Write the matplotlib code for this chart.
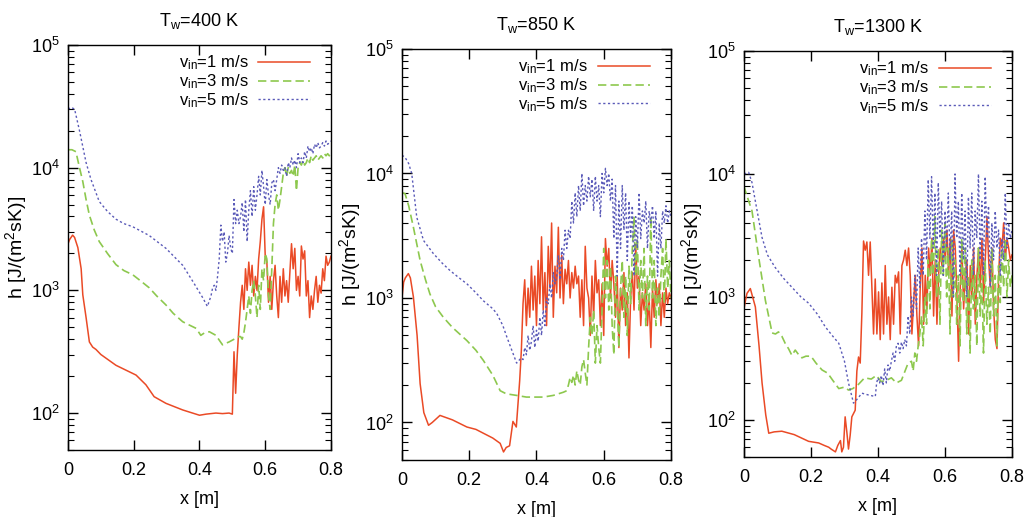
import numpy as np
import matplotlib
matplotlib.use("Agg")
import matplotlib.pyplot as plt
from matplotlib.ticker import FixedLocator, FuncFormatter, LogLocator

plt.rcParams["font.family"] = ["Liberation Sans", "DejaVu Sans"]
plt.rcParams["mathtext.default"] = "regular"

titles = ["T$_w$=400 K", "T$_w$=850 K", "T$_w$=1300 K"]
labels = ["v$_{in}$=1 m/s", "v$_{in}$=3 m/s", "v$_{in}$=5 m/s"]

# ---- Tw = 400 K ----
x1_r = [0, 0.005, 0.014, 0.02, 0.03, 0.04, 0.045, 0.055, 0.065, 0.075, 0.085, 0.1, 0.146, 0.207,
        0.237, 0.262, 0.298, 0.349, 0.4, 0.42, 0.45, 0.47, 0.49, 0.50]
h1_r = [2400, 2600, 2820, 2700, 2230, 1500, 920, 600, 380, 345, 330, 300, 245, 204, 170, 136,
        120, 106, 96, 98, 100, 99, 100, 98]
n1_r_start = 0.505
n1_r = [316, 145, 300, 500, 800, 1100, 700, 1500, 1000, 1700, 1100, 1600, 900, 1300, 1000,
        1800, 2500, 3800, 4800, 1900, 1700, 800, 1300, 700, 1200, 1600, 900, 600, 1300, 800,
        1500, 900, 1200, 800, 1400, 2400, 1500, 2200, 1000, 1300, 900, 2300, 1800, 2100, 900,
        1200, 600, 900, 700, 1000, 1300, 800, 1100, 950, 1500, 1200, 1900, 1600, 1700, 1900]

x1_g = [0, 0.012, 0.024, 0.035, 0.045, 0.055, 0.065, 0.08, 0.095, 0.12, 0.146, 0.17, 0.197,
        0.22, 0.247, 0.27, 0.298, 0.32, 0.349, 0.37, 0.39, 0.404, 0.415, 0.43, 0.45, 0.47,
        0.49, 0.52]
h1_g = [14000, 14000, 13500, 10000, 7700, 5500, 4100, 3100, 2500, 2000, 1620, 1450, 1340, 1200,
        1050, 900, 760, 650, 555, 520, 490, 430, 450, 460, 430, 360, 380, 420]
n1_g_start = 0.525
n1_g = [420, 400, 450, 550, 700, 900, 650, 1000, 1200, 900, 600, 1100, 700, 1500, 1200, 2000,
        1800, 900, 700, 1500, 3500, 5000, 6000, 4500, 5500, 7000, 9000, 10000, 8500, 10000,
        9000, 9500, 8500, 10500, 6500, 10000, 11000, 10500, 11500, 10500, 11000, 12000, 11000,
        12500, 11500, 12000, 12500, 11500, 12000, 12500, 12000, 13000, 12500, 13000, 12500, 13000]

x1_b = [0, 0.01, 0.02, 0.035, 0.055, 0.07, 0.095, 0.12, 0.146, 0.17, 0.197, 0.247, 0.298, 0.349,
        0.38, 0.41, 0.424, 0.435]
h1_b = [30000, 31000, 30000, 20000, 11000, 8000, 5300, 4400, 3800, 3500, 3300, 2800, 2200, 1600,
        1180, 870, 740, 900]
n1_b_start = 0.44
n1_b = [1050, 1100, 1000, 1300, 1800, 3400, 2500, 3000, 1700, 2000, 2800, 2200, 2000, 5500, 3500,
        4500, 3500, 4000, 5200, 3000, 5500, 2500, 4500, 6500, 4000, 7000, 4500, 6000, 8500, 6000,
        9500, 7000, 5000, 8000, 6000, 5000, 7500, 8000, 6500, 8000, 10000, 9000, 10500, 9500,
        10000, 8500, 11000, 10000, 12000, 10500, 11500, 10000, 13000, 11000, 12000, 11000, 13500,
        12000, 15000, 13500, 14500, 13000, 15500, 14500, 16000, 14500, 15000, 16000, 15000,
        16500, 15500, 16000, 16500]

# ---- Tw = 850 K ----
x2_r = [0, 0.005, 0.01, 0.019, 0.025, 0.034, 0.045, 0.054, 0.065, 0.079, 0.09, 0.113, 0.15,
        0.193, 0.22, 0.242, 0.27, 0.292, 0.302, 0.31, 0.32, 0.33, 0.34, 0.35]
h2_r = [1000, 1340, 1450, 1570, 1450, 1020, 500, 205, 120, 95, 100, 114, 105, 92, 88, 82, 75,
        68, 58, 63, 65, 102, 92, 216]
n2_r_start = 0.355
n2_r = [380, 900, 1400, 600, 1200, 700, 1800, 800, 1500, 600, 2000, 900, 3100, 800, 1600, 600,
        2600, 1200, 4000, 700, 1800, 1100, 3700, 1000, 2200, 900, 1700, 1300, 2000, 1000, 1600,
        1200, 1800, 1300, 1500, 700, 1400, 600, 2600, 1200, 1000, 500, 1500, 700, 2000, 1100,
        1400, 600, 1300, 500, 3000, 1800, 2500, 1000, 2000, 1300, 700, 1500, 400, 1200, 800,
        1600, 600, 1100, 330, 1000, 1600, 800, 2700, 1200, 1500, 600, 1100, 800, 1300, 600,
        1000, 400, 1200, 700, 1400, 900, 1300, 600, 1100, 700, 1200, 900, 1100, 1000]

x2_g = [0, 0.009, 0.02, 0.034, 0.054, 0.07, 0.083, 0.1, 0.123, 0.15, 0.193, 0.22, 0.242, 0.27,
        0.292, 0.31, 0.341, 0.37, 0.39, 0.42, 0.45, 0.48]
h2_g = [7000, 6900, 5500, 3700, 2000, 1400, 1080, 850, 700, 580, 455, 380, 315, 240, 180, 170,
        165, 160, 160, 160, 165, 175]
n2_g_start = 0.49
n2_g = [180, 200, 230, 210, 240, 200, 260, 220, 200, 280, 320, 250, 200, 400, 700, 500, 800,
        300, 600, 400, 300, 800, 2500, 1000, 2000, 800, 1800, 600, 350, 1500, 900, 400, 1200,
        2000, 700, 1500, 500, 1800, 900, 2500, 4500, 1500, 3000, 800, 2000, 1000, 2500, 600,
        1500, 800, 4500, 1000, 2000, 600, 1200, 700, 1500, 2500, 900, 3000, 1200, 2000, 1000]

x2_b = [0, 0.009, 0.02, 0.029, 0.044, 0.064, 0.093, 0.12, 0.143, 0.17, 0.193, 0.22, 0.242,
        0.27, 0.282, 0.3, 0.312, 0.33, 0.341, 0.35, 0.355]
h2_b = [14000, 13500, 12000, 10000, 4450, 2900, 2280, 1900, 1660, 1450, 1300, 1100, 950, 820,
        750, 600, 485, 360, 300, 320, 330]
n2_b_start = 0.36
n2_b = [320, 400, 350, 500, 380, 450, 600, 400, 550, 450, 700, 500, 800, 600, 1000, 900, 1300,
        1000, 1600, 1300, 1500, 2200, 1400, 2500, 2000, 3500, 2500, 3500, 3000, 6000, 4000, 7000,
        4500, 8000, 5000, 10000, 5500, 8000, 6000, 9500, 6500, 9000, 5000, 9500, 6000, 8000,
        4500, 10000, 7000, 11000, 8000, 10000, 6000, 9000, 3000, 8000, 1500, 6000, 2500, 8000,
        3500, 7000, 2000, 6000, 3000, 5500, 1500, 4500, 2500, 7000, 3000, 5000, 4000, 6000, 2500,
        5000, 4000, 5500, 3000, 5000, 1500, 4000, 2500, 5000, 4000, 5500, 4000, 5000, 4500]

# ---- Tw = 1300 K ----
x3_r = [0, 0.005, 0.009, 0.019, 0.034, 0.045, 0.054, 0.065, 0.074, 0.09, 0.113, 0.15, 0.193,
        0.223, 0.24, 0.253, 0.26, 0.273, 0.28, 0.288, 0.292, 0.297, 0.302, 0.307, 0.312, 0.317,
        0.322, 0.332, 0.337]
h3_r = [800, 950, 1070, 1170, 830, 400, 200, 110, 78, 80, 81, 76, 67, 65, 62, 60, 58, 55, 62, 68,
        55, 60, 106, 80, 58, 75, 106, 120, 250]
n3_r_start = 0.342
n3_r = [325, 290, 740, 2850, 2400, 2800, 1500, 2800, 1200, 500, 1400, 500, 1100, 450, 1300,
        500, 1800, 600, 1000, 450, 1200, 600, 1500, 1300, 1600, 500, 1800, 2000, 2400, 1800,
        2500, 1500, 500, 900, 1500, 700, 400, 1200, 2500, 600, 1500, 800, 2500, 1500, 3000, 700,
        2000, 600, 1500, 2500, 1800, 3000, 2000, 3500, 1500, 3000, 700, 3500, 2500, 1000, 300,
        1200, 2500, 800, 1500, 2000, 500, 1800, 1000, 2500, 600, 1500, 2500, 1200, 3000, 900,
        2000, 4500, 2000, 1200, 2500, 800, 450, 380, 1500, 3000, 2500, 4000, 2000, 3000, 2500,
        2000, 2200]

x3_g = [0, 0.004, 0.024, 0.044, 0.064, 0.084, 0.094, 0.103, 0.113, 0.123, 0.133, 0.143, 0.153,
        0.163, 0.173, 0.185, 0.2, 0.215, 0.233, 0.25, 0.265, 0.283, 0.3, 0.312, 0.325, 0.342,
        0.36, 0.38, 0.395, 0.41, 0.425, 0.44, 0.455, 0.47, 0.49]
h3_g = [8000, 7300, 5000, 2100, 935, 510, 500, 520, 480, 420, 380, 335, 370, 340, 320, 330, 330,
        290, 255, 240, 210, 180, 185, 175, 180, 195, 220, 215, 230, 205, 210, 220, 200, 210, 290]
n3_g_start = 0.50
n3_g = [300, 250, 350, 300, 400, 500, 700, 400, 1000, 600, 2000, 800, 3000, 1500, 4500, 1000,
        2500, 600, 3500, 1500, 4000, 1000, 2500, 500, 3000, 1000, 2000, 600, 1500, 400, 3000,
        900, 2500, 500, 1500, 350, 2000, 800, 1500, 400, 2500, 700, 1500, 350, 2000, 600, 1200,
        500, 2500, 700, 1500, 400, 1800, 900, 2500, 1200, 3000, 1000, 2000, 1200, 1500]

x3_b = [0, 0.014, 0.024, 0.034, 0.054, 0.07, 0.093, 0.12, 0.143, 0.17, 0.193, 0.22, 0.243,
        0.265, 0.283, 0.3, 0.312, 0.327, 0.34, 0.352, 0.37, 0.392, 0.396]
h3_b = [10000, 10300, 8500, 6000, 3040, 2200, 1740, 1400, 1200, 1000, 890, 720, 570, 480, 420,
        300, 200, 137, 150, 165, 160, 155, 200]
n3_b_start = 0.40
n3_b = [220, 200, 230, 190, 260, 200, 280, 250, 300, 350, 300, 400, 420, 350, 430, 380, 450,
        400, 700, 500, 1000, 700, 1500, 800, 2500, 1200, 3000, 1500, 5000, 2000, 9000, 3000,
        9500, 2500, 7000, 1500, 8500, 3000, 6000, 1500, 5000, 2500, 7000, 2000, 5000, 1000,
        10000, 3000, 6000, 1500, 7000, 2000, 5000, 1000, 6500, 2500, 7000, 1500, 5000, 3000,
        10000, 2000, 6000, 1500, 9500, 3000, 5500, 1200, 4000, 2000, 5000, 2500, 3500, 1500,
        3000, 2000, 7000, 2500, 4000, 3000, 3500]

panels = [
    [(x1_r, h1_r, n1_r_start, n1_r), (x1_g, h1_g, n1_g_start, n1_g), (x1_b, h1_b, n1_b_start, n1_b)],
    [(x2_r, h2_r, n2_r_start, n2_r), (x2_g, h2_g, n2_g_start, n2_g), (x2_b, h2_b, n2_b_start, n2_b)],
    [(x3_r, h3_r, n3_r_start, n3_r), (x3_g, h3_g, n3_g_start, n3_g), (x3_b, h3_b, n3_b_start, n3_b)],
]

colors = ["#ea4a26", "#8dc84e", "#5a5ab8"]
styles = ["-", (0, (5, 2.5)), (0, (1.6, 1.8))]
lws = [1.1, 1.2, 1.0]

boxes = [
    [0.0659, 0.1296, 0.2548, 0.7834],
    [0.3895, 0.1103, 0.2607, 0.7950],
    [0.7209, 0.1161, 0.2597, 0.7853],
]

fig = plt.figure(figsize=(10.32, 5.17), dpi=100)

for i, box in enumerate(boxes):
    ax = fig.add_axes(box)
    for j, (xs, hs, ns, nv) in enumerate(panels[i]):
        xn = np.linspace(ns, 0.8, len(nv))
        x = np.concatenate([xs, xn])
        h = np.concatenate([hs, nv])
        ax.plot(x, h, color=colors[j], linestyle=styles[j], lw=lws[j], label=labels[j])
    ax.set_yscale("log")
    ax.set_xlim(0, 0.8)
    ax.set_ylim(50, 1e5)
    ax.xaxis.set_major_locator(FixedLocator([0, 0.2, 0.4, 0.6, 0.8]))
    ax.xaxis.set_major_formatter(FuncFormatter(lambda v, p: "%g" % v))
    ax.yaxis.set_major_locator(LogLocator(base=10, numticks=10))
    ax.yaxis.set_minor_locator(LogLocator(base=10, subs=np.arange(2, 10), numticks=20))
    ax.tick_params(which="both", direction="in", top=True, right=True, labelsize=13)
    ax.tick_params(which="major", length=7, width=1)
    ax.tick_params(which="minor", length=4, width=0.8)
    ax.tick_params(axis="x", which="major", pad=9)
    ax.tick_params(axis="y", which="major", pad=6)
    for s in ax.spines.values():
        s.set_linewidth(1.0)
    ax.set_xlabel("x [m]", fontsize=13, labelpad=8)
    ax.set_ylabel("h [J/(m$^2$sK)]", fontsize=14, labelpad=1)
    ax.set_title(titles[i], fontsize=13, pad=14)
    ax.legend(loc="upper right", bbox_to_anchor=(0.945, 0.995), frameon=False, markerfirst=False,
              fontsize=12, handlelength=3.1, borderaxespad=0.0, labelspacing=0.0,
              handletextpad=0.6)

fig.savefig("out.png", dpi=100)
